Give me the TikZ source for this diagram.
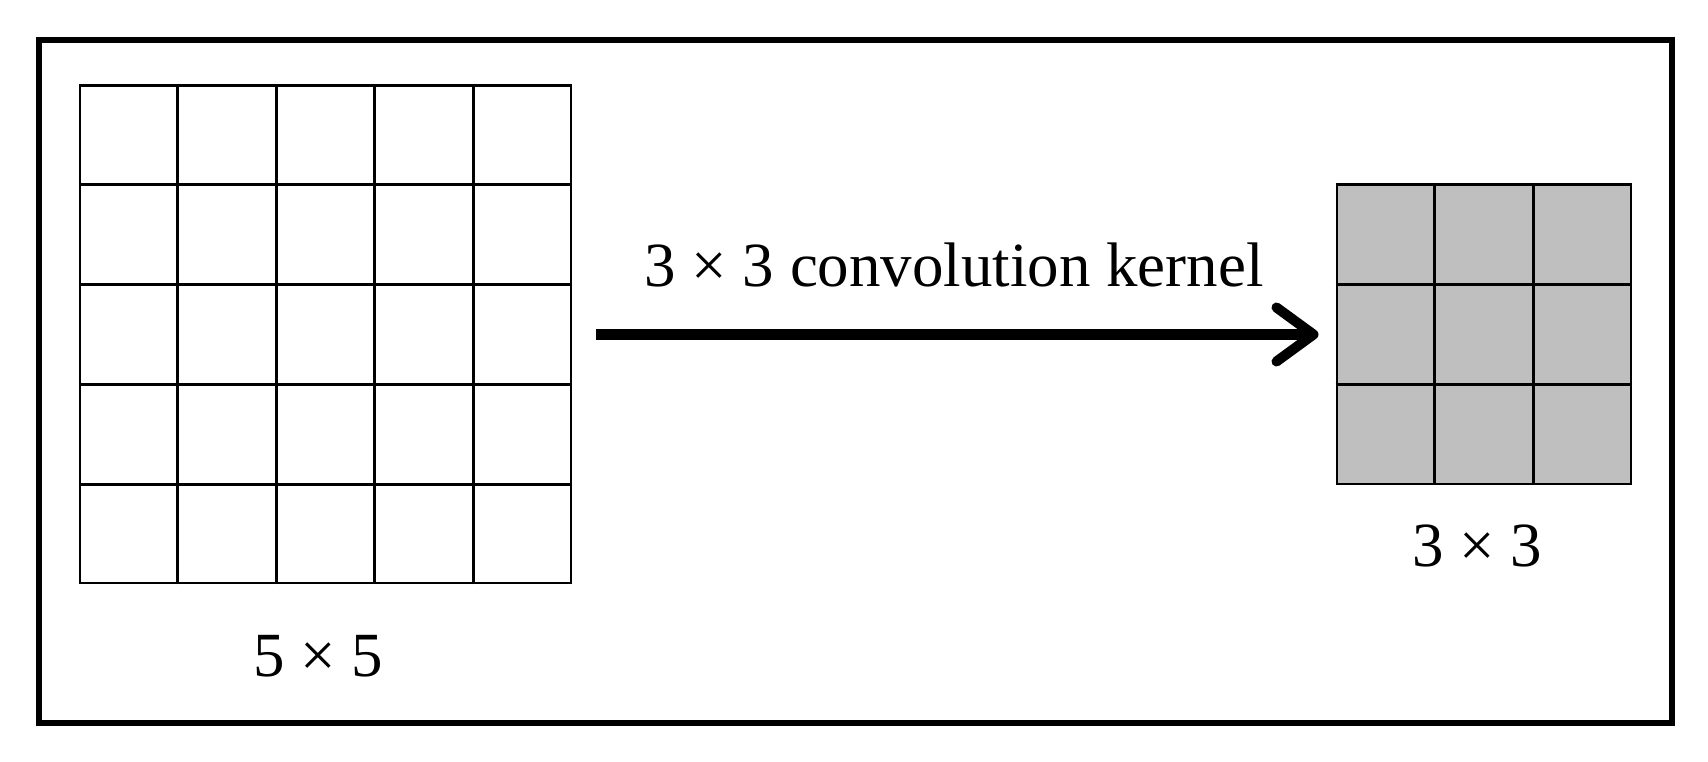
\documentclass[tikz,border=0pt]{standalone}
\usepackage{fontspec}
\setmainfont{Liberation Serif}
\usetikzlibrary{positioning,arrows.meta,calc}

\begin{document}
\begin{tikzpicture}[
    gridnode/.style={rectangle, draw=black, line width=0.85pt, inner sep=0pt},
    cellline/.style={draw=black, line width=0.85pt},
    sizelabel/.style={inner sep=0pt, font=\fontsize{17.9}{21}\selectfont},
    convarrow/.style={line width=2.85pt, -{Straight Barb[length=0.37cm, width=0.54cm, line cap=round, line join=round]}}
    ]
        \useasboundingbox (0,0) rectangle (17.08,7.62);
        \draw[line width=1.7pt] (0.39,0.39) rectangle (16.72,7.22);

        %Nodes
        \node[gridnode, minimum width=4.91cm, minimum height=4.97cm]
            (input)                        at (3.255,4.275) {};
        \node[gridnode, fill=black!25, minimum width=2.94cm, minimum height=2.99cm]
            (kernel)  [right=7.63cm of input] {};
        \node[sizelabel] (inputsize)  [below=0.50cm of input, xshift=-0.07cm]  {5 × 5};
        \node[sizelabel] (kernelsize) [below=0.39cm of kernel, xshift=-0.07cm] {3 × 3};

        %Cells
        \foreach \i in {1,...,4} {
            \draw[cellline] ($(input.south west)!\i/5!(input.south east)$) -- ($(input.north west)!\i/5!(input.north east)$);
            \draw[cellline] ($(input.south west)!\i/5!(input.north west)$) -- ($(input.south east)!\i/5!(input.north east)$);
        }
        \foreach \i in {1,2} {
            \draw[cellline] ($(kernel.south west)!\i/3!(kernel.south east)$) -- ($(kernel.north west)!\i/3!(kernel.north east)$);
            \draw[cellline] ($(kernel.south west)!\i/3!(kernel.north west)$) -- ($(kernel.south east)!\i/3!(kernel.north east)$);
        }

        %Lines
        \draw[convarrow, shorten <=0.24cm, shorten >=0.17cm]
            (input.east) -- node[sizelabel, above=0.42cm] {3 × 3 convolution kernel} (kernel.west);
    \end{tikzpicture}
\end{document}
